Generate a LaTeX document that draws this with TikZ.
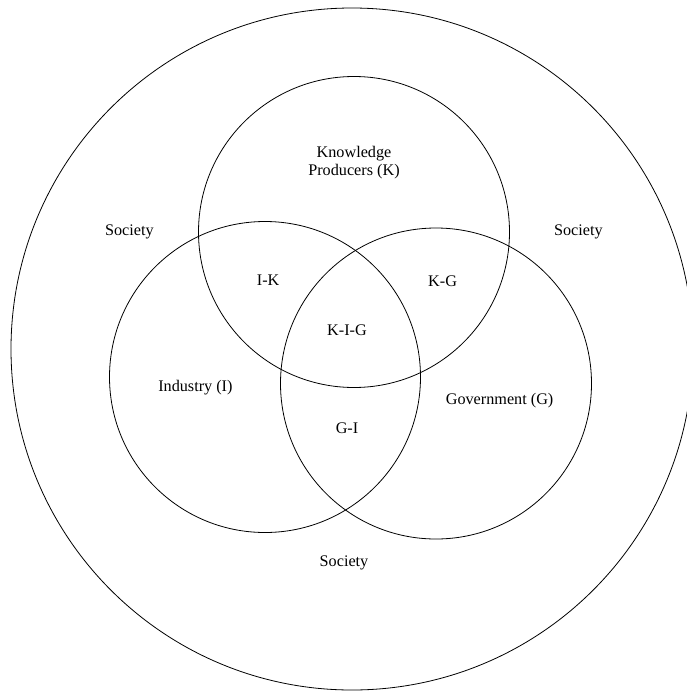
\documentclass[tikz,border=0pt]{standalone}
\usepackage{fontspec}
\setmainfont{Liberation Serif}
\begin{document}
\begin{tikzpicture}[x=1pt,y=-1pt,
  ring/.style={draw, circle, line width=0.8pt, inner sep=0pt},
  lbl/.style={font=\fontsize{16.2}{18.5}\selectfont, inner sep=0pt, align=center}]
\useasboundingbox (0,0) rectangle (687,691);
\begin{scope}
\clip (0,0) rectangle (687,691);
\node[ring, minimum size=682pt] (society) at (352,349) {};
\end{scope}
\node[ring, minimum size=311pt] (know) at (354,232) {};
\node[ring, minimum size=311pt] (ind) at (265,377) {};
\node[ring, minimum size=311pt] (gov) at (436,383.5) {};

\node[lbl] (kp) at (354,162.5) {Knowledge\\Producers (K)};
\node[lbl] (socl) at (129.3,232) {Society};
\node[lbl] (socr) at (578.4,232) {Society};
\node[lbl] (ik) at (268.2,280) {I-K};
\node[lbl] (kg) at (442.6,281) {K-G};
\node[lbl] (kig) at (347,330) {K-I-G};
\node[lbl] (indl) at (195.4,388) {Industry (I)};
\node[lbl] (govl) at (499.6,401) {Government (G)};
\node[lbl] (gi) at (347,428.5) {G-I};
\node[lbl] (socb) at (344,562.5) {Society};
\end{tikzpicture}
\end{document}
